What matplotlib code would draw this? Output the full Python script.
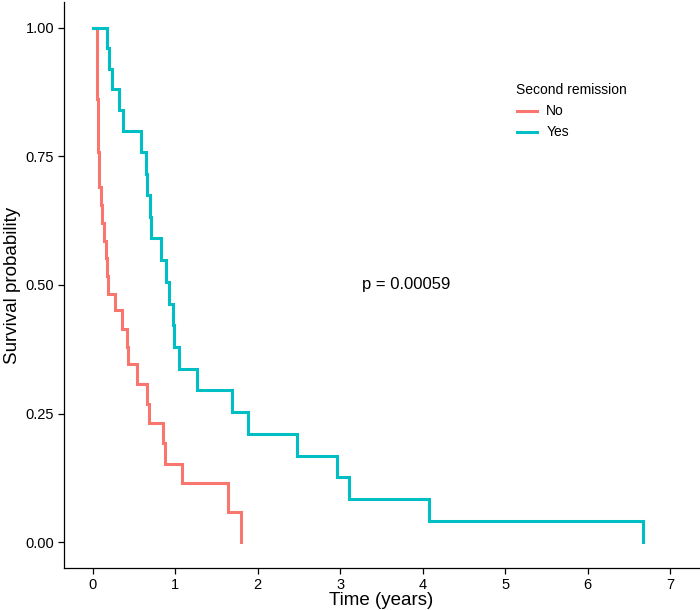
import matplotlib
matplotlib.use("Agg")
import matplotlib.pyplot as plt
from matplotlib.lines import Line2D

# ---- data ----
groups = ["No", "Yes"]
colors = ["#F8766D", "#00BFC4"]

times_no = [0, 0.045, 0.048, 0.052, 0.055, 0.058, 0.062, 0.064, 0.072, 0.077,
            0.093, 0.113, 0.137, 0.158, 0.172, 0.186, 0.267, 0.35, 0.41, 0.43,
            0.54, 0.66, 0.68, 0.845, 0.87, 1.075, 1.64, 1.80]
surv_no = [1.0, 0.966, 0.931, 0.897, 0.862, 0.828, 0.793, 0.759, 0.724, 0.690,
           0.655, 0.621, 0.586, 0.552, 0.517, 0.483, 0.451, 0.414, 0.380, 0.346,
           0.307, 0.268, 0.231, 0.192, 0.153, 0.115, 0.058, 0.0]

times_yes = [0, 0.17, 0.20, 0.23, 0.32, 0.36, 0.585, 0.64, 0.66, 0.69, 0.70,
             0.824, 0.89, 0.92, 0.97, 0.98, 1.05, 1.26, 1.69, 1.88, 2.47, 2.96,
             3.11, 4.08, 6.67]
surv_yes = [1.0, 0.96, 0.92, 0.88, 0.84, 0.80, 0.759, 0.716, 0.675, 0.632, 0.591,
            0.548, 0.505, 0.464, 0.422, 0.380, 0.337, 0.296, 0.253, 0.211, 0.168,
            0.126, 0.084, 0.042, 0.0]

x_ticks = [0, 1, 2, 3, 4, 5, 6, 7]
y_ticks = [0.0, 0.25, 0.5, 0.75, 1.0]
y_ticklabels = ["0.00", "0.25", "0.50", "0.75", "1.00"]
pval_text = "p = 0.00059"
pval_pos = (3.8, 0.5)

plt.rcParams['font.family'] = ['Liberation Sans', 'DejaVu Sans']

W, H = 700, 610
fig = plt.figure(figsize=(W / 100, H / 100), dpi=100)
ax = fig.add_axes([64 / W, (H - 568) / H, 635 / W, 566 / H])

series = [(times_no, surv_no), (times_yes, surv_yes)]
for (t, s), c, g in zip(series, colors, groups):
    ax.step(t, s, where="post", color=c, lw=2.2, label=g, solid_joinstyle="miter")

ax.set_xlim(-0.35, 7.35)
ax.set_ylim(-0.05, 1.05)
ax.set_xticks(x_ticks)
ax.set_yticks(y_ticks)
ax.set_yticklabels(y_ticklabels)
ax.tick_params(axis="both", labelsize=10.5, colors="black", length=4, width=0.9,
               direction="out", pad=3)
for side in ["top", "right"]:
    ax.spines[side].set_visible(False)
for side in ["left", "bottom"]:
    ax.spines[side].set_linewidth(0.9)
    ax.spines[side].set_color("black")

ax.set_xlabel("Time (years)", fontsize=13.5, labelpad=0.5)
ax.set_ylabel("Survival probability", fontsize=13.5, labelpad=3)

ax.text(pval_pos[0], pval_pos[1], pval_text, ha="center", va="center", fontsize=12)

handles = [Line2D([0], [0], color=c, lw=2.2) for c in colors]
leg = fig.legend(handles, groups, title="Second remission", loc="upper left",
                 bbox_to_anchor=(504 / W, 1 - 71 / H), frameon=False,
                 fontsize=10, title_fontsize=10, handlelength=1.5,
                 handletextpad=0.65, labelspacing=0.5, alignment="left")

fig.savefig("out.png", dpi=100)
